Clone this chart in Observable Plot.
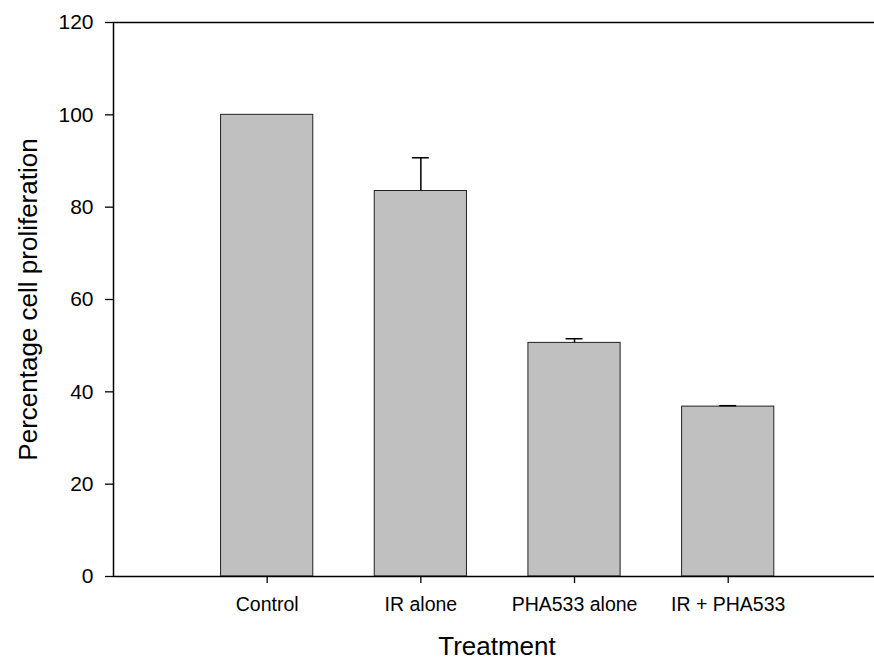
<!DOCTYPE html>
<html><head><meta charset="utf-8">
<script src="https://cdn.jsdelivr.net/npm/d3@7"></script>
<script src="https://cdn.jsdelivr.net/npm/@observablehq/plot@0.6"></script>
<style>body{margin:0;background:#fff}</style>
</head><body><div id="chart"></div>
<script>
const categories = ["Control", "IR alone", "PHA533 alone", "IR + PHA533"];
const values = [100, 83.5, 50.6, 36.8];
const errors = [0, 7.2, 0.9, 0.2];
const yTicks = [0, 20, 40, 60, 80, 100, 120];
const yTitle = "Percentage cell proliferation";
const xTitle = "Treatment";

const data = categories.map((c, i) => ({pos: i + 1, name: c, value: values[i], err: errors[i]}));
const withErr = data.filter(d => d.err > 0);

const chart = Plot.plot({
  width: 874, height: 660,
  marginLeft: 113, marginRight: 0, marginTop: 22, marginBottom: 84,
  style: {fontFamily: "'Liberation Sans', Arial, sans-serif", background: "#fff", color: "#000", overflow: "visible"},
  x: {domain: [0, 4.952], axis: null},
  y: {domain: [0, 120], axis: null},
  marks: [
    Plot.rectY(data, {x1: d => d.pos - 0.3, x2: d => d.pos + 0.3, y1: 0, y2: "value", fill: "#c0c0c0", stroke: "#222", strokeWidth: 1}),
    Plot.ruleX(withErr, {x: "pos", y1: "value", y2: d => d.value + d.err, stroke: "#000", strokeWidth: 1.5}),
    Plot.ruleY(withErr, {y: d => d.value + d.err, x1: d => d.pos - 0.055, x2: d => d.pos + 0.055, stroke: "#000", strokeWidth: 1.5}),
    Plot.axisY({ticks: yTicks, tickSize: 8, tickPadding: 12, fontSize: 21, label: null, strokeWidth: 1.3}),
    Plot.axisX({ticks: [1, 2, 3, 4], tickFormat: i => categories[i - 1], tickSize: 7, tickPadding: 14, fontSize: 19.5, label: null, strokeWidth: 1.3}),
    Plot.ruleX([0], {stroke: "#000", strokeWidth: 1.5}),
    Plot.ruleY([0], {stroke: "#000", strokeWidth: 1.5}),
    Plot.ruleY([120], {stroke: "#000", strokeWidth: 1.5}),
    Plot.text([yTitle], {frameAnchor: "left", textAnchor: "middle", rotate: -90, dx: -85.3, fontSize: 26, lineAnchor: "middle", fill: "#000"}),
    Plot.text([xTitle], {frameAnchor: "bottom", textAnchor: "middle", dx: 3, dy: 70.5, fontSize: 26, lineAnchor: "middle", fill: "#000"})
  ]
});
document.getElementById("chart").appendChild(chart);
</script>
</body></html>
